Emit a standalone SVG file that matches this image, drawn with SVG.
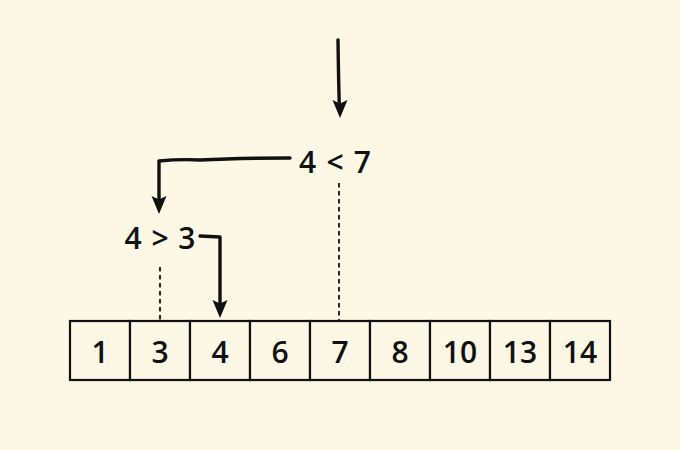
<svg xmlns="http://www.w3.org/2000/svg" width="680" height="450" viewBox="0 0 680 450">
<style>
.t{font-family:"Open Sans","Liberation Sans",Arial,sans-serif;font-weight:600;font-size:30px;fill:#111;text-anchor:middle}
.cell{fill:#fdf7e6;stroke:#111;stroke-width:2.2}
.arrow{fill:none;stroke:#111;stroke-width:3.4;stroke-linecap:round;stroke-linejoin:round}
.dash{fill:none;stroke:#111;stroke-width:1.8;stroke-dasharray:4.5 3.5}
</style>
<defs>
<path id="head" d="M-7.5,-18 L0,0 L7.5,-18 L0,-14.5 Z" fill="#111"/>
</defs>
<rect width="680" height="450" fill="#fdf7e6"/>
<g id="array">
<rect class="cell" x="70" y="321" width="60" height="59"/>
<rect class="cell" x="130" y="321" width="60" height="59"/>
<rect class="cell" x="190" y="321" width="60" height="59"/>
<rect class="cell" x="250" y="321" width="60" height="59"/>
<rect class="cell" x="310" y="321" width="60" height="59"/>
<rect class="cell" x="370" y="321" width="60" height="59"/>
<rect class="cell" x="430" y="321" width="60" height="59"/>
<rect class="cell" x="490" y="321" width="60" height="59"/>
<rect class="cell" x="550" y="321" width="60" height="59"/>
<text class="t" x="100" y="363">1</text>
<text class="t" x="160" y="363">3</text>
<text class="t" x="220" y="363">4</text>
<text class="t" x="280" y="363">6</text>
<text class="t" x="340" y="363">7</text>
<text class="t" x="400" y="363">8</text>
<text class="t" x="460" y="363">10</text>
<text class="t" x="520" y="363">13</text>
<text class="t" x="580" y="363">14</text>
</g>
<g id="cmp1"><text class="t" x="335" y="173" style="word-spacing:2.5px">4 &lt; 7</text></g>
<g id="cmp2"><text class="t" x="160" y="249" style="word-spacing:2px">4 &gt; 3</text></g>
<g id="connectors">
<path class="arrow" d="M338,40 Q338.5,80 339.5,112"/>
<path class="arrow" d="M290,158 Q240,158 200,160 Q180,159 159,161 L159,208"/>
<path class="arrow" d="M200,236 L220,237 L220,312"/>
<path class="dash" d="M339,183 L339,320"/>
<path class="dash" d="M160,267 L160,320"/>
<use href="#head" x="340" y="118"/>
<use href="#head" x="159" y="214"/>
<use href="#head" x="220" y="318"/>
</g>
</svg>
